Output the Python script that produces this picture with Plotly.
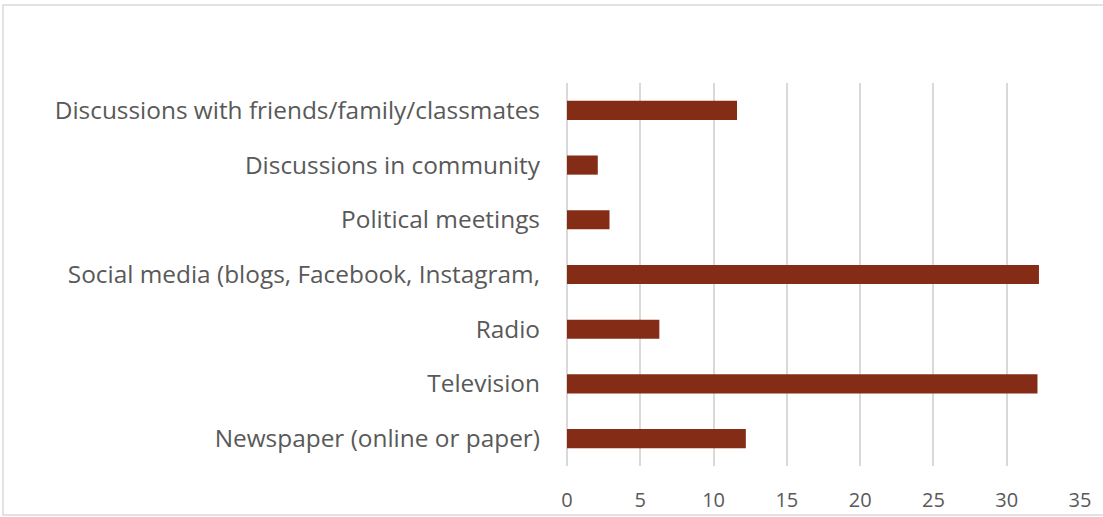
import plotly.graph_objects as go

# Sources of information (bottom to top as drawn)
categories = [
    "Newspaper (online or paper)",
    "Television",
    "Radio",
    "Social media (blogs, Facebook, Instagram,",
    "Political meetings",
    "Discussions in community",
    "Discussions with friends/family/classmates",
]
values = [12.2, 32.1, 6.3, 32.2, 2.9, 2.1, 11.6]
x_ticks = [0, 5, 10, 15, 20, 25, 30, 35]

BAR_COLOR = "#842c16"
GRID_COLOR = "#d9d9d9"
TEXT_COLOR = "#595959"
FONT = "Open Sans, Calibri, sans-serif"

fig = go.Figure(
    go.Bar(
        x=values,
        y=categories,
        orientation="h",
        marker=dict(color=BAR_COLOR, line=dict(width=0)),
        width=0.35,
    )
)

fig.update_layout(
    width=1103,
    height=517,
    margin=dict(l=567, r=23, t=83, b=51),
    paper_bgcolor="white",
    plot_bgcolor="white",
    showlegend=False,
    font=dict(family=FONT, color=TEXT_COLOR),
)

fig.update_xaxes(
    automargin=False,
    range=[0, 35],
    tickvals=x_ticks,
    ticktext=[str(v) for v in x_ticks],
    showgrid=True,
    gridcolor=GRID_COLOR,
    gridwidth=1.5,
    zeroline=True,
    zerolinecolor=GRID_COLOR,
    zerolinewidth=1.5,
    showline=False,
    ticks="",
    tickfont=dict(size=20, color=TEXT_COLOR, family=FONT),
    ticklabelstandoff=20,
)

fig.update_yaxes(
    automargin=False,
    categoryorder="array",
    categoryarray=categories,
    range=[-0.5, len(categories) - 0.5],
    showgrid=False,
    zeroline=False,
    showline=False,
    ticks="",
    tickfont=dict(size=24.4, color=TEXT_COLOR, family=FONT),
    ticklabelstandoff=26,
)

# Light frame around the chart area
fig.add_shape(
    type="rect",
    xref="paper", yref="paper",
    x0=-564 / 513, x1=1.05,
    y0=-49 / 383, y1=1 + 78 / 383,
    line=dict(color="#d9d9d9", width=1.5),
    fillcolor="rgba(0,0,0,0)",
    layer="below",
)

fig.write_html("out.html")
